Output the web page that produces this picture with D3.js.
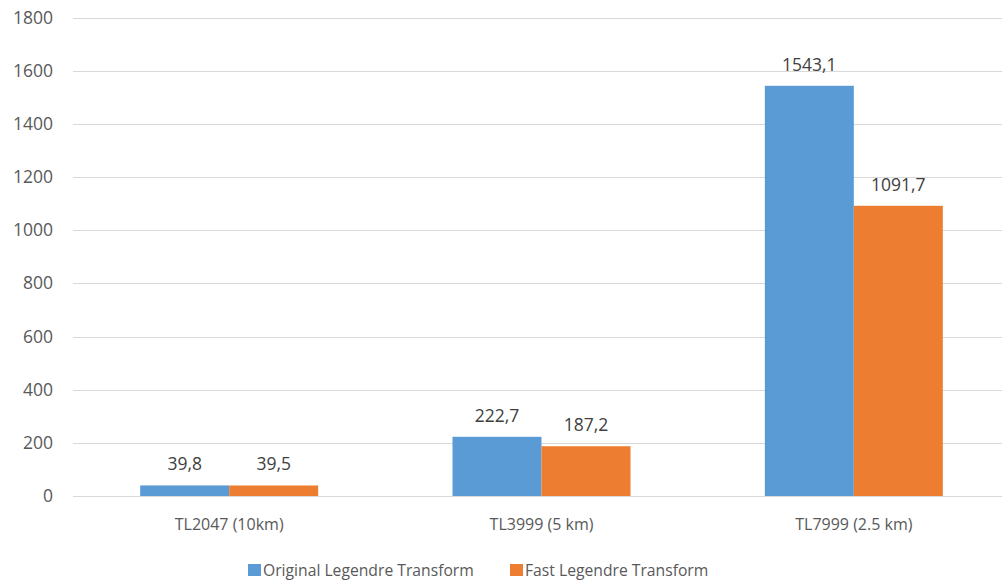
<!DOCTYPE html>
<html>
<head>
<meta charset="utf-8">
<script src="https://cdn.jsdelivr.net/npm/d3@7"></script>
<style>
  html, body { margin: 0; padding: 0; background: #fff; }
  svg { display: block; font-family: "Open Sans", "Liberation Sans", sans-serif; }
</style>
</head>
<body>
<svg id="chart" width="1002" height="580"></svg>
<script>
// Transform timings per grid resolution
const categories = ["TL2047 (10km)", "TL3999 (5 km)", "TL7999 (2.5 km)"];
const seriesNames = ["Original Legendre Transform", "Fast Legendre Transform"];
const originalValues = [39.8, 222.7, 1543.1];
const fastValues = [39.5, 187.2, 1091.7];
const yTicks = [0, 200, 400, 600, 800, 1000, 1200, 1400, 1600, 1800];
const colors = ["#5B9BD5", "#ED7D31"];

const rows = categories.map((c, i) => ({ cat: c, vals: [originalValues[i], fastValues[i]] }));

const svg = d3.select("#chart");
const textColor = "#595959";

const plot = { left: 73, right: 1010, top: 17.5, bottom: 496 };

const x0 = d3.scaleBand().domain(categories).range([plot.left, plot.right]).padding(0);
const barW = 89;
const x1 = d3.scaleBand().domain(seriesNames).range([0, barW * 2]).padding(0);
const y = d3.scaleLinear().domain([0, 1800]).range([plot.bottom, plot.top]);

// horizontal gridlines
svg.append("g")
  .selectAll("line")
  .data(yTicks)
  .join("line")
  .attr("x1", plot.left).attr("x2", plot.right)
  .attr("y1", d => Math.round(y(d)) + 0.5).attr("y2", d => Math.round(y(d)) + 0.5)
  .attr("stroke", "#D9D9D9").attr("stroke-width", 1);

// y axis labels
const yAxis = d3.axisLeft(y).tickValues(yTicks).tickSize(0).tickPadding(0).tickFormat(d3.format("d"));
const gy = svg.append("g").attr("transform", `translate(${53},0)`).call(yAxis);
gy.select(".domain").remove();
gy.selectAll("text").attr("fill", textColor).style("font-size", "17.5px")
  .style("font-family", "'Open Sans', sans-serif");

// bars
const groups = svg.append("g").selectAll("g")
  .data(rows)
  .join("g")
  .attr("transform", d => `translate(${x0(d.cat) + x0.bandwidth() / 2 - barW},0)`);

groups.selectAll("rect")
  .data(d => d.vals.map((v, j) => ({ v, s: seriesNames[j], j })))
  .join("rect")
  .attr("x", d => x1(d.s))
  .attr("width", x1.bandwidth())
  .attr("y", d => y(d.v))
  .attr("height", d => y(0) - y(d.v))
  .attr("fill", d => colors[d.j]);

// value labels
const fmt = v => d3.format(".1f")(v).replace(".", ",");
groups.selectAll("text")
  .data(d => d.vals.map((v, j) => ({ v, s: seriesNames[j], j })))
  .join("text")
  .attr("x", d => x1(d.s) + x1.bandwidth() / 2)
  .attr("y", d => y(d.v) - 15)
  .attr("text-anchor", "middle")
  .attr("fill", "#404040")
  .style("font-size", "17.5px")
  .text(d => fmt(d.v));

// x axis category labels
const xAxis = d3.axisBottom(x0).tickSize(0).tickPadding(0);
const gx = svg.append("g").attr("transform", `translate(0,${plot.bottom + 23})`).call(xAxis);
gx.select(".domain").remove();
gx.selectAll("text").attr("fill", textColor).style("font-size", "16px")
  .style("font-family", "'Open Sans', sans-serif");

// legend
const legendX = [248, 510];
const legend = svg.append("g").selectAll("g")
  .data(seriesNames)
  .join("g")
  .attr("transform", (d, i) => `translate(${legendX[i]},${564})`);
legend.append("rect").attr("width", 13).attr("height", 12).attr("fill", (d, i) => colors[i]);
legend.append("text")
  .attr("x", 15).attr("y", 6).attr("dy", "0.35em")
  .attr("fill", textColor)
  .style("font-size", "15.7px")
  .text(d => d);
</script>
</body>
</html>
